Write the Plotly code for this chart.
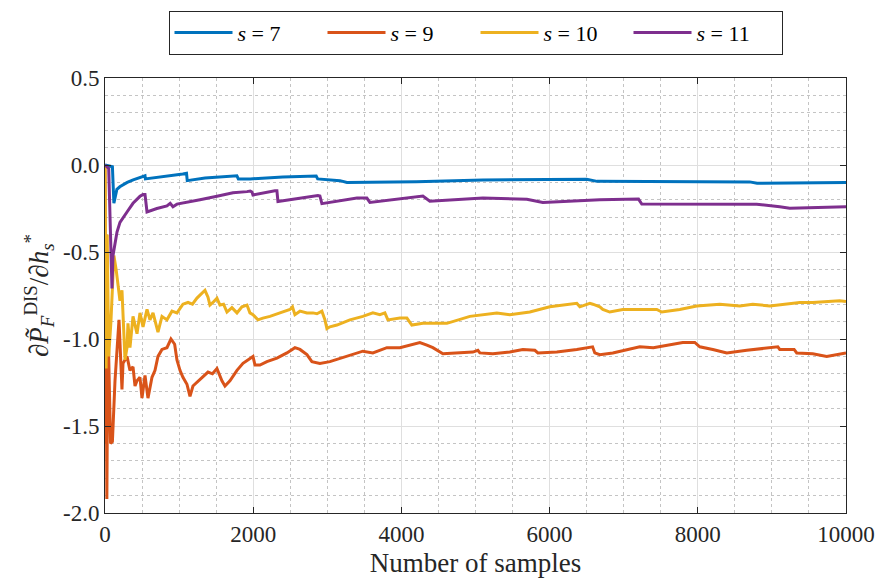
import plotly.graph_objects as go

# Running estimate of the derivative versus number of samples, for four values of s
s7_x = [0, 60, 100, 120, 160, 200, 300, 380, 510, 540, 545, 650, 840, 1050, 1100, 1110,
        1350, 1650, 1780, 1800, 1960, 2400, 2800, 2850, 2870, 3170, 3265, 3600, 4200,
        5100, 6000, 6500, 6640, 7800, 8700, 8800, 10000]
s7_y = [0.0, -0.005, -0.01, -0.22, -0.14, -0.125, -0.10, -0.085, -0.068, -0.062, -0.08,
        -0.075, -0.063, -0.052, -0.048, -0.09, -0.075, -0.063, -0.062, -0.081, -0.08,
        -0.069, -0.063, -0.063, -0.08, -0.09, -0.10, -0.10, -0.096, -0.086, -0.082,
        -0.082, -0.094, -0.096, -0.097, -0.105, -0.10]

s9_x = [0, 8, 15, 25, 40, 55, 75, 100, 135, 189, 229, 243, 297, 337, 378, 405, 432, 472,
        499, 540, 580, 634, 675, 715, 769, 836, 890, 940, 971, 1012, 1052, 1106, 1147,
        1187, 1241, 1322, 1390, 1450, 1511, 1578, 1619, 1686, 1781, 1862, 1956, 1997,
        2024, 2091, 2185, 2320, 2455, 2563, 2631, 2725, 2792, 2900, 3035, 3265, 3480,
        3615, 3804, 3980, 4114, 4249, 4344, 4425, 4560, 4749, 4964, 5032, 5059, 5234,
        5463, 5639, 5801, 5842, 6098, 6367, 6543, 6580, 6610, 6678, 6853, 7217, 7400,
        7581, 7797, 7959, 8027, 8202, 8391, 8661, 9039, 9080, 9106, 9300, 9335, 9551,
        9740, 10000]
s9_y = [0.0, -1.6, -0.95, -1.92, -0.9, -1.25, -1.6, -1.59, -1.24, -0.89, -1.29, -1.14,
        -1.10, -1.18, -1.16, -1.27, -1.24, -1.22, -1.34, -1.21, -1.34, -1.22, -1.18,
        -1.10, -1.06, -1.05, -1.0, -1.03, -1.12, -1.18, -1.22, -1.26, -1.33, -1.27,
        -1.25, -1.22, -1.19, -1.2, -1.17, -1.24, -1.27, -1.24, -1.18, -1.14, -1.11,
        -1.10, -1.15, -1.15, -1.13, -1.11, -1.08, -1.05, -1.06, -1.09, -1.13, -1.14,
        -1.13, -1.10, -1.07, -1.08, -1.05, -1.05, -1.035, -1.02, -1.035, -1.05, -1.085,
        -1.08, -1.075, -1.065, -1.08, -1.085, -1.075, -1.06, -1.065, -1.08, -1.075,
        -1.06, -1.045, -1.045, -1.08, -1.09, -1.08, -1.045, -1.05, -1.035, -1.02, -1.02,
        -1.045, -1.06, -1.08, -1.065, -1.045, -1.045, -1.06, -1.06, -1.08, -1.085, -1.10,
        -1.08]

s10_x = [0, 15, 30, 50, 80, 120, 150, 175, 202, 229, 243, 270, 297, 310, 337, 378, 432,
         472, 513, 567, 607, 648, 715, 769, 836, 904, 971, 1052, 1120, 1180, 1241, 1282,
         1322, 1349, 1390, 1416, 1457, 1511, 1551, 1600, 1646, 1713, 1781, 1848, 1916,
         1956, 1997, 2064, 2131, 2226, 2361, 2496, 2530, 2563, 2631, 2725, 2806, 2860,
         2927, 2968, 2995, 3035, 3130, 3305, 3480, 3615, 3710, 3777, 3818, 3980, 4074,
         4141, 4290, 4614, 4924, 5288, 5463, 5733, 6003, 6367, 6408, 6543, 6583, 6678,
         6718, 6812, 6988, 7446, 7514, 7756, 7986, 8297, 8566, 8741, 8971, 9376, 9551,
         9915, 10000]
s10_y = [0.0, -1.17, -0.4, -1.1, -0.9, -0.52, -0.6, -0.68, -0.78, -0.72, -0.85, -1.12,
         -1.05, -0.91, -1.05, -0.87, -0.97, -0.85, -0.93, -0.83, -0.89, -0.85, -0.96,
         -0.87, -0.89, -0.84, -0.85, -0.80, -0.79, -0.80, -0.765, -0.747, -0.73, -0.72,
         -0.76, -0.805, -0.79, -0.765, -0.805, -0.80, -0.845, -0.82, -0.85, -0.815,
         -0.805, -0.85, -0.86, -0.89, -0.88, -0.87, -0.85, -0.83, -0.815, -0.86, -0.84,
         -0.85, -0.85, -0.855, -0.84, -0.89, -0.94, -0.93, -0.92, -0.89, -0.87, -0.85,
         -0.86, -0.85, -0.89, -0.88, -0.88, -0.92, -0.91, -0.91, -0.87, -0.85, -0.86,
         -0.845, -0.815, -0.795, -0.815, -0.795, -0.80, -0.815, -0.83, -0.845, -0.83,
         -0.83, -0.845, -0.83, -0.81, -0.80, -0.81, -0.80, -0.81, -0.79, -0.79, -0.78,
         -0.785]

s11_x = [0, 50, 94, 108, 162, 202, 297, 378, 472, 513, 540, 567, 700, 836, 880, 917, 971,
         1106, 1282, 1511, 1727, 1916, 1960, 1983, 1997, 2293, 2320, 2334, 2873, 2900,
         2927, 3400, 3534, 3575, 4290, 4384, 5099, 5693, 5909, 6678, 7200, 7244, 8795,
         9106, 9241, 10000]
s11_y = [0.0, -0.02, -0.71, -0.52, -0.385, -0.33, -0.27, -0.22, -0.18, -0.17, -0.17,
         -0.27, -0.25, -0.235, -0.22, -0.24, -0.225, -0.215, -0.20, -0.18, -0.16, -0.153,
         -0.15, -0.155, -0.172, -0.148, -0.148, -0.21, -0.175, -0.178, -0.222, -0.19,
         -0.19, -0.215, -0.178, -0.208, -0.19, -0.197, -0.216, -0.20, -0.196, -0.224,
         -0.225, -0.24, -0.248, -0.24]

series_names = ["<i>s</i> = 7", "<i>s</i> = 9", "<i>s</i> = 10", "<i>s</i> = 11"]
series_colors = ["#0072BD", "#D95319", "#EDB120", "#7E2F8E"]

y_tick_vals = [-2.0, -1.5, -1.0, -0.5, 0.0, 0.5]
y_tick_text = ["-2.0", "-1.5", "-1.0", "-0.5", "0.0", "0.5"]
x_tick_vals = [0, 2000, 4000, 6000, 8000, 10000]

FONT = "'Liberation Serif', 'Times New Roman', Tinos, 'DejaVu Serif', serif"
AXIS_COLOR = "#262626"

fig = go.Figure()
for xs, ys, name, color in zip([s7_x, s9_x, s10_x, s11_x],
                               [s7_y, s9_y, s10_y, s11_y],
                               series_names, series_colors):
    fig.add_trace(go.Scatter(x=xs, y=ys, mode="lines", name=name,
                             line=dict(color=color, width=3)))

axis_common = dict(
    showline=True, linecolor=AXIS_COLOR, linewidth=1, mirror="ticks",
    ticks="inside", ticklen=6, tickcolor=AXIS_COLOR, tickwidth=1,
    showgrid=True, gridcolor="#dfdfdf", gridwidth=1, zeroline=False,
    tickfont=dict(family=FONT, size=23, color=AXIS_COLOR),
    automargin=False,
)

fig.update_xaxes(
    range=[0, 10000], tickvals=x_tick_vals, tickformat="d",
    minor=dict(dtick=500, showgrid=True, gridcolor="#c4c4c4", griddash="dot",
               ticks=""),
    title=dict(text="Number of samples", font=dict(family=FONT, size=27, color=AXIS_COLOR),
               standoff=12),
    **axis_common,
)
fig.update_yaxes(
    range=[-2.0, 0.5], tickvals=y_tick_vals, ticktext=y_tick_text,
    minor=dict(dtick=0.1, showgrid=True, gridcolor="#c4c4c4", griddash="dot",
               ticks=""),
    title=dict(text="∂<i>P̃</i><sub><i>F</i></sub><sup>DIS</sup>/∂<i>h</i><sub><i>s</i></sub><sup>*</sup>",
               font=dict(family=FONT, size=27, color=AXIS_COLOR), standoff=6),
    **axis_common,
)

fig.update_layout(
    width=877, height=578,
    margin=dict(l=105, r=31, t=78, b=65, autoexpand=False),
    paper_bgcolor="white", plot_bgcolor="white",
    showlegend=True,
    legend=dict(
        orientation="h", x=0.5, xanchor="center", y=1.155, yanchor="top",
        bordercolor=AXIS_COLOR, borderwidth=1, bgcolor="white",
        font=dict(family=FONT, size=22, color="black"),
        itemwidth=58, entrywidth=80, entrywidthmode="pixels",
        traceorder="normal",
    ),
)

fig.write_html("out.html")
